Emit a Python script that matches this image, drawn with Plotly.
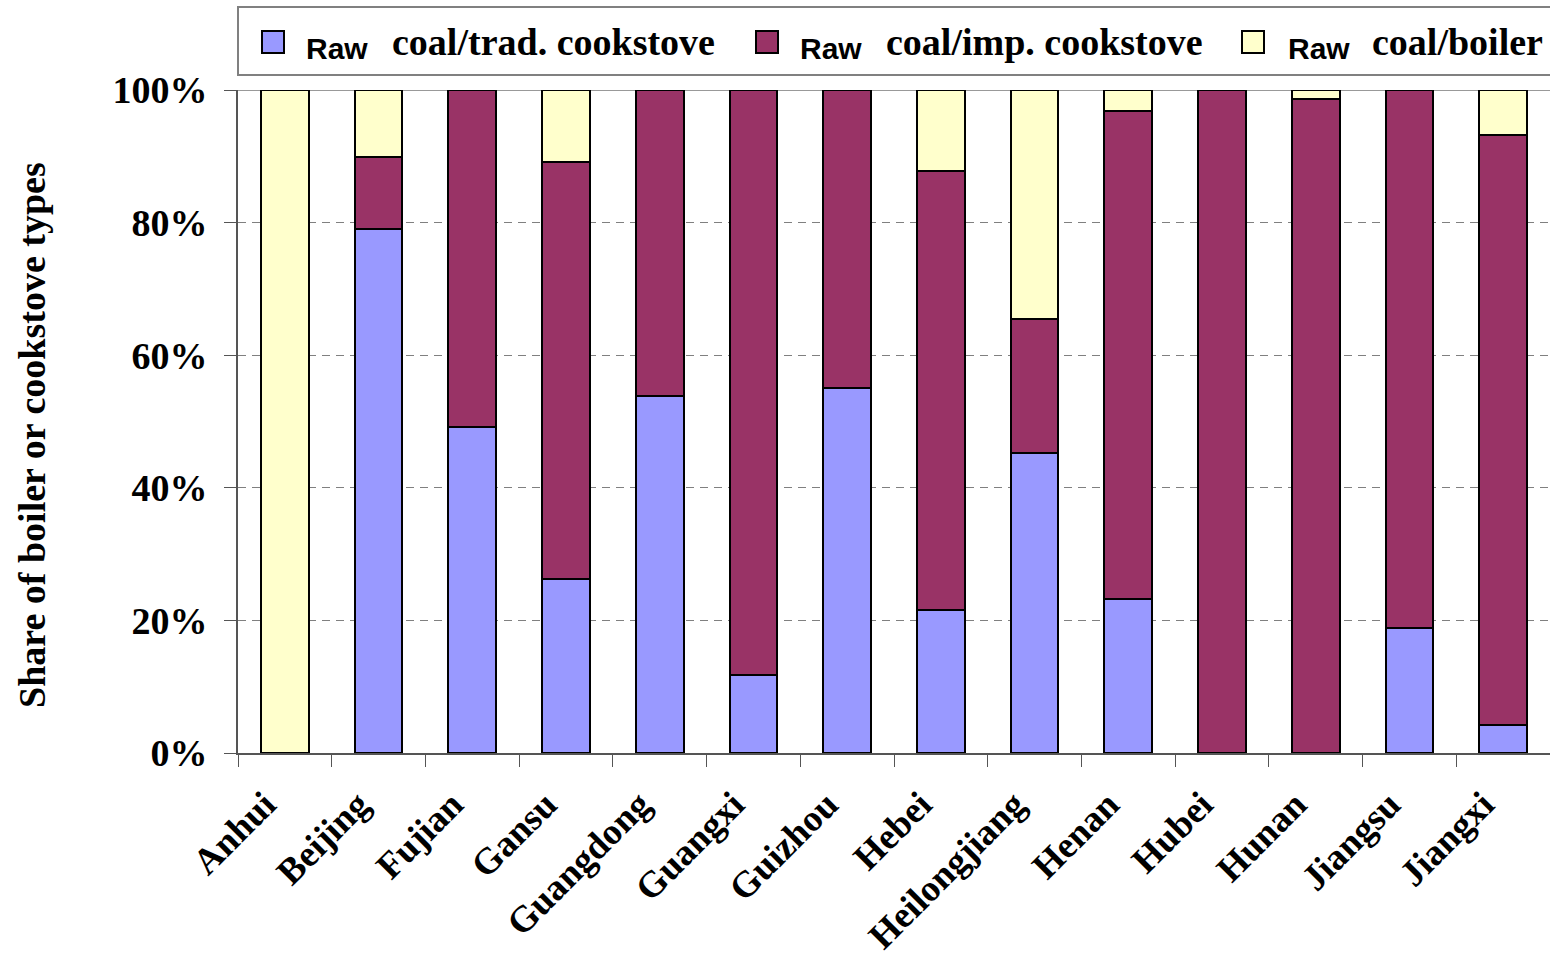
import plotly.graph_objects as go

# Provinces on the category axis
provinces = ["Anhui", "Beijing", "Fujian", "Gansu", "Guangdong", "Guangxi",
             "Guizhou", "Hebei", "Heilongjiang", "Henan", "Hubei", "Hunan",
             "Jiangsu", "Jiangxi"]

# Share (%) of each boiler / cookstove type per province
trad_cookstove = [0.0, 79.1, 49.2, 26.2, 53.9, 11.8, 55.0, 21.5, 45.3, 23.3, 0.0, 0.0, 18.9, 4.2]
imp_cookstove = [0.0, 10.8, 50.8, 63.0, 46.1, 88.2, 45.0, 66.3, 20.2, 73.5, 100.0, 98.6, 81.1, 89.0]
boiler = [100.0, 10.1, 0.0, 10.8, 0.0, 0.0, 0.0, 12.2, 34.5, 3.2, 0.0, 1.4, 0.0, 6.8]

fuel_prefix = "Raw"
series_labels = ["coal/trad. cookstove", "coal/imp. cookstove", "coal/boiler"]
series_values = [trad_cookstove, imp_cookstove, boiler]
series_colors = ["#9999FF", "#993366", "#FFFFCC"]

y_title = "Share of boiler or cookstove types"

SERIF = "Liberation Serif"
SANS = "Liberation Sans"

W, H = 1550, 960
M_L, M_R, M_T, M_B = 238, 0, 90, 207
PW, PH = W - M_L - M_R, H - M_T - M_B


def px_x(px):
    return (px - M_L) / PW


def px_y(py):
    return (H - M_B - py) / PH


fig = go.Figure()
for label, vals, color in zip(series_labels, series_values, series_colors):
    fig.add_trace(go.Bar(
        x=provinces,
        y=[v / 100 for v in vals],
        name=f"{fuel_prefix} {label}",
        marker=dict(color=color, line=dict(color="#000000", width=2)),
        showlegend=False,
    ))

shapes = []
annotations = []

# Solid top border of the plotting area
shapes.append(dict(type="line", xref="paper", yref="y", x0=0, x1=1, y0=1, y1=1,
                   line=dict(color="#999999", width=2), layer="below"))

# Legend frame
shapes.append(dict(type="rect", xref="paper", yref="paper",
                   x0=px_x(238), x1=px_x(1552), y0=px_y(75), y1=px_y(7),
                   line=dict(color="#808080", width=2), fillcolor="#FFFFFF"))

# Legend entries: swatch, "Raw" prefix and the rest of the label
swatch_left = [262, 756, 1242]
prefix_left = [304, 798, 1286]
label_left = [390, 884, 1370]
for i, label in enumerate(series_labels):
    shapes.append(dict(type="rect", xref="paper", yref="paper",
                       x0=px_x(swatch_left[i]), x1=px_x(swatch_left[i] + 22),
                       y0=px_y(53), y1=px_y(31),
                       fillcolor=series_colors[i], line=dict(color="#000000", width=2)))
    annotations.append(dict(xref="paper", yref="paper", x=px_x(prefix_left[i]), y=px_y(48),
                            xanchor="left", yanchor="middle", showarrow=False,
                            text=fuel_prefix,
                            font=dict(family=SANS, size=30, color="#000000", weight="bold")))
    annotations.append(dict(xref="paper", yref="paper", x=px_x(label_left[i]), y=px_y(42),
                            xanchor="left", yanchor="middle", showarrow=False,
                            text=label,
                            font=dict(family=SERIF, size=38, color="#000000", weight="bold")))

# Vertical axis title
annotations.append(dict(xref="paper", yref="paper", x=px_x(32), y=px_y(435),
                        xanchor="center", yanchor="middle", showarrow=False,
                        textangle=-90, text=y_title,
                        font=dict(family=SERIF, size=38, color="#000000", weight="bold")))

fig.update_layout(
    width=W, height=H,
    margin=dict(l=M_L, r=M_R, t=M_T, b=M_B, pad=0, autoexpand=False),
    barmode="stack",
    bargap=0.49,
    paper_bgcolor="#FFFFFF",
    plot_bgcolor="#FFFFFF",
    shapes=shapes,
    annotations=annotations,
    font=dict(family=SERIF, size=36, color="#000000"),
)

fig.update_xaxes(
    type="category",
    automargin=False,
    tickangle=-45,
    tickfont=dict(family=SERIF, size=37, color="#000000", weight="bold"),
    showline=True, linecolor="#555555", linewidth=2,
    ticks="outside", tickson="boundaries", ticklen=12, tickcolor="#555555", tickwidth=1,
    ticklabelstandoff=13, ticklabelshift=-20,
    showgrid=False,
)

fig.update_yaxes(
    range=[0, 1],
    automargin=False,
    tickmode="linear", tick0=0, dtick=0.2, tickformat=".0%",
    tickfont=dict(family=SERIF, size=38, color="#000000", weight="bold"),
    showline=True, linecolor="#555555", linewidth=2,
    ticks="outside", ticklen=12, tickcolor="#555555", tickwidth=1,
    ticklabelstandoff=9,
    showgrid=True, gridcolor="#808080", gridwidth=1, griddash="8px,6px",
    zeroline=False,
)

fig.write_html("out.html")
